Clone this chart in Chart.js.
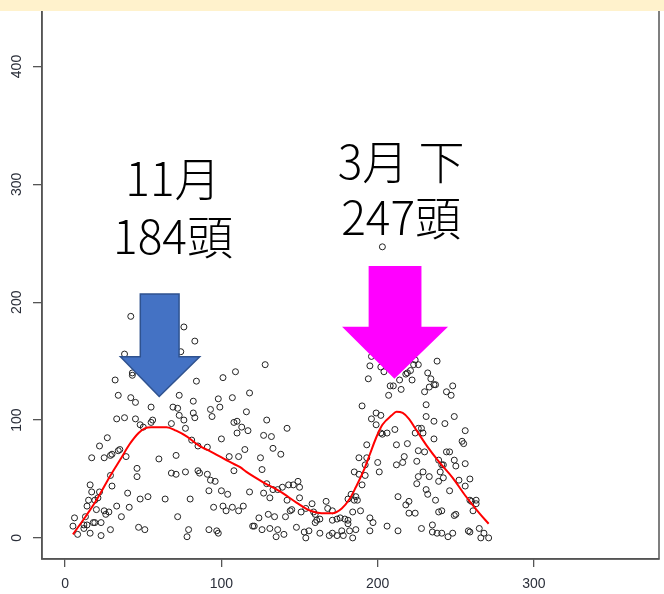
<!DOCTYPE html>
<html>
<head>
<meta charset="utf-8">
<script src="https://cdn.jsdelivr.net/npm/chart.js@4.4.0/dist/chart.umd.min.js"></script>
<style>
  html, body { margin: 0; padding: 0; background: #fff; }
  #wrap { position: relative; width: 664px; height: 594px; }
  #band { position: absolute; left: 0; top: 0; width: 664px; height: 11px; background: #fff2cc; }
</style>
</head>
<body>
<div id="wrap">
  <canvas id="chart" width="664" height="594"></canvas>
  <div id="band"></div>
</div>
<script>
// ---- data ----
// scatter: day (x) and head count (y)
const dayX = [
  42,76,83,38,74,43,43,32,84,101,109,34,42,45,73,82,98,107,55,69,72,93,99,33,38,45,73,82,83,76,94,48,50,55,56,68,77,108,110,110,
  27,22,81,85,91,100,35,34,30,25,29,39,17,60,71,105,46,46,68,71,77,85,86,91,93,96,108,29,16,30,17,22,21,15,19,40,48,53,64,80,
  92,100,104,14,20,33,41,25,28,26,36,6,13,5,12,14,12,18,19,23,8,16,23,29,47,51,72,79,78,92,97,98,95,101,103,107,111,
  128,118,116,129,113,117,127,132,142,115,133,138,111,125,126,129,118,127,131,133,136,139,143,146,149,150,142,150,114,130,134,145,144,151,154,158,159,160,141,124,
  120,121,126,131,136,135,140,148,153,154,156,160,161,163,167,168,171,174,176,179,181,171,163,169,171,174,177,178,182,184,186,181,184,185,187,189,186,181,183,190,
  188,192,185,188,192,193,193,195,195,197,206,213,200,201,203,202,206,190,196,199,202,199,194,195,196,202,204,207,208,210,215,214,211,212,212,216,217,219,213,218,
  220,220,224,226,225,229,233,231,232,225,226,230,224,226,228,229,236,239,241,242,240,242,239,246,249,250,256,252,256,259,254,255,256,244,246,236,231,231,232,234,
  236,230,233,237,238,244,247,248,243,249,222,219,221,223,224,226,218,237,239,241,249,250,235,235,238,241,245,248,228,258,259,259,260,263,263,261,265,268,266,271,
  203
];
const headY = [
  188,179,167,156,158,140,138,134,133,136,141,121,119,115,121,116,118,119,111,111,110,109,111,101,102,101,104,106,102,100,103,96,94,98,100,97,93,98,99,89,
  85,78,83,78,77,84,75,74,71,68,70,69,68,67,70,69,59,52,55,54,56,57,55,54,49,48,57,53,45,44,39,39,34,32,32,38,33,35,33,33,
  40,40,37,27,24,27,26,23,22,20,18,17,18,10,11,11,8,13,13,13,3,4,2,7,9,7,18,7,1,7,6,4,26,27,23,26,23,
  147,123,107,100,94,91,87,86,93,75,76,71,69,68,58,46,39,38,34,41,41,43,45,45,48,43,32,34,27,20,18,24,23,22,25,29,22,20,18,17,
  10,10,7,8,7,1,3,9,5,0,6,13,15,16,31,25,23,16,17,16,15,15,4,2,4,2,6,2,6,0,7,12,22,32,32,23,35,33,37,45,
  54,53,56,68,62,68,79,17,6,13,10,6,64,56,88,89,89,112,101,106,104,96,135,146,154,145,141,121,129,129,126,134,92,79,62,64,69,80,35,28,
  31,21,21,52,46,56,52,41,37,65,74,73,89,93,93,89,84,66,62,62,56,51,48,40,66,61,63,49,44,50,82,80,91,73,73,99,103,113,140,135,
  130,124,128,130,150,124,121,129,97,103,134,140,142,147,151,147,139,32,22,23,19,20,11,5,4,4,1,4,8,6,5,32,31,32,29,23,8,4,0,0,
  247
];
// smoothed (loess) curve
const smoothX = [5,13,20,29,36,41,47,51,55,65,71,78,85,95,106,112,116,127,138,148,157,164,171,177,182,186,191,195,199,203,209,212,216,220,224,231,239,248,256,265,271];
const smoothY = [3,18,32,53,68,79,89,93,94,94,91,86,79,72,64,60,56,47,39,30,23,21,21,25,33,43,57,71,85,96,104,107,106,101,93,79,65,51,36,21,12];
// axis ticks
const xTicks = [0, 100, 200, 300];
const yTicks = [0, 100, 200, 300, 400];
// call-out labels
const peakLabels = [
  { lines: ['11月', '184頭'], x: 69, y: [305, 256] },
  { lines: ['3月 下', '247頭'], x: 215, y: [319, 272] },
];

// ---- styling ----
const INK = '#2b2f3a';
const FRAME = '#555';
const TICK_FONT = { family: '"Liberation Sans", Arial, sans-serif', size: 14 };

// arrows (data units): shaft / head edges and heights
const ARROWS = [
  { tipX: 60.2, tipY: 120, neckY: 153.7, topY: 207, shaft: [48.1, 72.9], head: [35.4, 86.1], fill: '#4472c4', line: '#2f528f' },
  { tipX: 210.7, tipY: 135, neckY: 179.1, topY: 230.8, shaft: [194.2, 228.0], head: [177.2, 245.0], fill: '#ff00ff', line: null },
];

const points = dayX.map((x, i) => ({ x, y: headY[i] }));
const smooth = smoothX.map((x, i) => ({ x, y: smoothY[i] }));

const overlayPlugin = {
  id: 'overlay',
  afterDatasetsDraw(chart) {
    const { ctx } = chart;
    const xs = chart.scales.x, ys = chart.scales.y;
    ctx.save();
    ARROWS.forEach((a) => {
      const X = (v) => xs.getPixelForValue(v);
      const Y = (v) => ys.getPixelForValue(v);
      ctx.beginPath();
      ctx.moveTo(X(a.shaft[0]), Y(a.topY));
      ctx.lineTo(X(a.shaft[1]), Y(a.topY));
      ctx.lineTo(X(a.shaft[1]), Y(a.neckY));
      ctx.lineTo(X(a.head[1]), Y(a.neckY));
      ctx.lineTo(X(a.tipX), Y(a.tipY));
      ctx.lineTo(X(a.head[0]), Y(a.neckY));
      ctx.lineTo(X(a.shaft[0]), Y(a.neckY));
      ctx.closePath();
      ctx.fillStyle = a.fill;
      ctx.fill();
      if (a.line) {
        ctx.strokeStyle = a.line;
        ctx.lineWidth = 1.5;
        ctx.stroke();
      }
    });
    ctx.fillStyle = '#000';
    ctx.font = '300 46px "Noto Sans CJK JP", sans-serif';
    ctx.textAlign = 'center';
    ctx.textBaseline = 'middle';
    peakLabels.forEach((lab) => {
      lab.lines.forEach((t, i) => {
        ctx.fillText(t, xs.getPixelForValue(lab.x), ys.getPixelForValue(lab.y[i]));
      });
    });
    ctx.restore();
  },
  afterDraw(chart) {
    const { ctx, chartArea: ca } = chart;
    const ys = chart.scales.y;
    ctx.save();
    // full box round the plot region
    ctx.strokeStyle = FRAME;
    ctx.lineWidth = 1.5;
    ctx.strokeRect(ca.left, ca.top, ca.right - ca.left, ca.bottom - ca.top);
    // rotated y tick labels (R style)
    ctx.fillStyle = INK;
    ctx.font = `${TICK_FONT.size}px ${TICK_FONT.family}`;
    ctx.textAlign = 'center';
    ctx.textBaseline = 'middle';
    yTicks.forEach((v) => {
      ctx.save();
      ctx.translate(17, ys.getPixelForValue(v));
      ctx.rotate(-Math.PI / 2);
      ctx.fillText(String(v), 0, 0);
      ctx.restore();
    });
    ctx.restore();
  },
};

new Chart(document.getElementById('chart'), {
  type: 'scatter',
  data: {
    datasets: [
      {
        label: 'smooth',
        data: smooth,
        showLine: true,
        borderColor: '#ff0000',
        borderWidth: 2,
        pointRadius: 0,
        cubicInterpolationMode: 'monotone',
        fill: false,
      },
      {
        label: 'heads',
        data: points,
        pointStyle: 'circle',
        pointRadius: 3,
        borderWidth: 1,
        borderColor: '#222',
        backgroundColor: 'rgba(0,0,0,0)',
      },
    ],
  },
  options: {
    responsive: false,
    animation: false,
    devicePixelRatio: 1,
    layout: { padding: { left: 0, right: 1, top: 0, bottom: 0 } },
    plugins: { legend: { display: false }, tooltip: { enabled: false } },
    scales: {
      x: {
        type: 'linear',
        min: -14.8,
        max: 380,
        afterBuildTicks: (s) => { s.ticks = xTicks.map((v) => ({ value: v })); },
        afterFit: (s) => { s.height = 35; },
        grid: { drawOnChartArea: false, drawTicks: true, tickLength: 8, color: FRAME, lineWidth: 1.3 },
        border: { display: true, color: FRAME, width: 1.5 },
        ticks: { color: INK, font: TICK_FONT, padding: 9, maxRotation: 0 },
      },
      y: {
        type: 'linear',
        min: -17.9,
        max: 452.2,
        afterBuildTicks: (s) => { s.ticks = yTicks.map((v) => ({ value: v })); },
        afterFit: (s) => { s.width = 42; },
        grid: { drawOnChartArea: false, drawTicks: true, tickLength: 9, color: FRAME, lineWidth: 1.3 },
        border: { display: true, color: FRAME, width: 1.5 },
        ticks: { display: false },
      },
    },
  },
  plugins: [overlayPlugin],
});
</script>
</body>
</html>
